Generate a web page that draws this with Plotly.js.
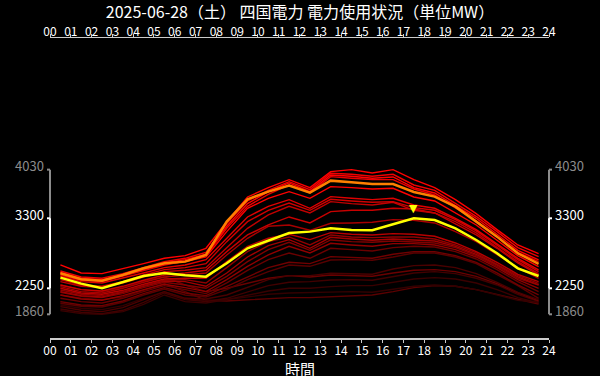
<!DOCTYPE html>
<html><head><meta charset="utf-8">
<script src="https://cdn.plot.ly/plotly-3.0.1.min.js"></script>
<style>html,body{margin:0;padding:0;background:#000;}#chart{width:600px;height:376px;}</style>
</head><body><div id="chart"></div>
<script>
const hours = [0.5,1.5,2.5,3.5,4.5,5.5,6.5,7.5,8.5,9.5,10.5,11.5,12.5,13.5,14.5,15.5,16.5,17.5,18.5,19.5,20.5,21.5,22.5,23.5];
const tickVals = [0,1,2,3,4,5,6,7,8,9,10,11,12,13,14,15,16,17,18,19,20,21,22,23,24];
const tickLabels = ['00','01','02','03','04','05','06','07','08','09','10','11','12','13','14','15','16','17','18','19','20','21','22','23','24'];

const today = [2410,2320,2250,2340,2435,2480,2445,2425,2625,2850,2960,3080,3100,3150,3125,3120,3210,3300,3275,3150,2975,2775,2550,2435];
const yesterday = [2475,2385,2365,2450,2550,2625,2650,2750,3250,3585,3700,3790,3685,3865,3840,3815,3815,3695,3625,3475,3250,3025,2775,2615];

const past01 = [2600,2480,2470,2540,2620,2700,2740,2850,3250,3620,3760,3880,3760,4000,4030,3980,4030,3880,3760,3580,3370,3130,2900,2770];
const past02 = [2510,2420,2400,2470,2560,2650,2700,2790,3220,3560,3720,3850,3730,3975,3960,3930,3960,3800,3720,3520,3330,3100,2860,2725];
const past03 = [2490,2400,2380,2450,2540,2630,2680,2760,3180,3520,3700,3830,3700,3950,3930,3900,3920,3760,3680,3490,3300,3060,2820,2675];
const past04 = [2450,2370,2350,2430,2520,2600,2660,2740,3150,3480,3660,3800,3680,3925,3900,3880,3880,3740,3650,3450,3260,3020,2790,2650];
const past05 = [2475,2390,2370,2440,2530,2610,2650,2720,3100,3450,3600,3700,3600,3775,3760,3740,3750,3620,3560,3380,3200,2970,2740,2575];
const past06 = [2430,2350,2330,2400,2480,2560,2600,2680,3000,3320,3480,3580,3450,3625,3600,3580,3600,3500,3450,3300,3130,2920,2700,2525];
const past07 = [2380,2300,2280,2350,2450,2530,2560,2620,2950,3250,3420,3530,3420,3585,3560,3540,3550,3460,3420,3280,3110,2900,2680,2500];
const past08 = [2350,2280,2260,2330,2420,2500,2520,2560,2860,3150,3350,3480,3380,3550,3520,3500,3540,3420,3380,3250,3080,2870,2650,2470];
const past09 = [2300,2230,2210,2280,2370,2450,2480,2520,2800,3050,3200,3320,3230,3400,3420,3420,3450,3440,3380,3220,3050,2850,2630,2450];
const past10 = [2275,2200,2180,2250,2340,2420,2450,2480,2750,3000,3180,3200,3120,3225,3230,3240,3280,3270,3230,3100,2950,2760,2560,2400];
const past11 = [2250,2180,2160,2220,2310,2390,2400,2400,2650,2880,3000,3060,2980,3085,3060,3050,3070,3060,3030,2930,2800,2640,2460,2350];
const past12 = [2225,2160,2140,2200,2290,2370,2380,2330,2560,2800,2950,3020,2900,3050,3020,3010,3020,3020,2990,2900,2780,2610,2440,2325];
const past13 = [2200,2140,2120,2190,2280,2360,2350,2280,2480,2720,2890,2980,2850,3015,2990,2970,2990,2980,2960,2880,2760,2600,2420,2300];
const past14 = [2190,2130,2110,2170,2260,2340,2300,2250,2430,2650,2830,2940,2820,2975,2950,2940,2960,2950,2930,2860,2740,2580,2400,2300];
const past15 = [2150,2090,2070,2140,2230,2310,2260,2200,2380,2580,2750,2880,2780,2925,2900,2880,2920,2920,2900,2830,2720,2560,2380,2250];
const past16 = [2100,2050,2030,2100,2200,2290,2230,2170,2330,2520,2680,2780,2700,2850,2830,2810,2860,2880,2870,2800,2690,2530,2350,2200];
const past17 = [2050,2000,1990,2060,2170,2260,2180,2140,2280,2420,2560,2640,2620,2725,2710,2700,2760,2800,2800,2740,2640,2480,2300,2150];
const past18 = [2025,1980,1970,2040,2150,2240,2150,2120,2230,2380,2500,2600,2580,2675,2680,2670,2720,2780,2780,2720,2620,2460,2290,2100];
const past19 = [1975,1920,1900,1960,2080,2200,2100,2090,2150,2270,2380,2440,2440,2475,2470,2460,2540,2590,2600,2560,2470,2340,2190,2080];
const past20 = [2300,2230,2200,2260,2360,2420,2300,2200,2250,2330,2400,2440,2420,2450,2440,2430,2480,2520,2530,2500,2430,2320,2180,2060];
const past21 = [1940,1890,1870,1920,2040,2180,2080,2050,2100,2200,2290,2340,2350,2375,2380,2370,2430,2480,2500,2470,2400,2300,2160,2050];
const past22 = [1915,1870,1860,1900,2010,2150,2050,2030,2080,2150,2210,2250,2250,2275,2290,2290,2340,2390,2410,2390,2330,2230,2110,2030];
const past23 = [2000,1950,1930,1990,2100,2200,2100,2060,2080,2120,2160,2180,2190,2200,2200,2190,2240,2280,2300,2280,2230,2150,2070,2040];
const past24 = [2150,2100,2080,2120,2220,2320,2200,2070,2060,2080,2100,2110,2110,2125,2130,2150,2200,2260,2290,2280,2230,2160,2080,2015];

const pastSeries = [past24,past23,past22,past21,past20,past19,past18,past17,past16,past15,past14,past13,past12,past11,past10,past09,past08,past07,past06,past05,past04,past03,past02,past01];
const pastColors = ['#5a0000','#330000','#3a0000','#420000','#6a0000','#4a0000','#580000','#700000','#6a0000','#900000','#800000','#a00000','#900000','#b80000','#a80000','#c80000','#c00000','#d00000','#e00000','#ff0000','#e80000','#ff0000','#f00000','#ff0000'];

const traces = [];
pastSeries.forEach((s,i)=>{
  traces.push({x:hours,y:s,type:'scatter',mode:'lines',line:{color:pastColors[i],width:1.4},hoverinfo:'skip',showlegend:false});
});
traces.push({x:hours,y:yesterday,type:'scatter',mode:'lines',line:{color:'#ff8000',width:2.5},showlegend:false});
traces.push({x:hours,y:today,type:'scatter',mode:'lines',line:{color:'#ffff00',width:2.5},showlegend:false});
// invisible trace to activate top axis
traces.push({x:[0,24],y:[null,null],xaxis:'x2',type:'scatter',mode:'lines',showlegend:false});

const allVals = pastSeries.flat().concat(yesterday, today);
const allMin = Math.min(...allVals), allMax = Math.max(...allVals);
const todayMin = Math.min(...today), todayMax = Math.max(...today);
const peakIdx = today.indexOf(todayMax);

const font = 'Noto Sans CJK JP, Noto Sans, sans-serif';
const axisCommon = {range:[0,24],tickvals:tickVals,ticktext:tickLabels,showline:true,linecolor:'#cccccc',linewidth:1.5,
  ticks:'outside',ticklen:3,tickcolor:'#cccccc',tickwidth:1,showgrid:false,zeroline:false,
  tickfont:{family:font,size:12,color:'#ffffff'},fixedrange:true};

function bracket(v0,v1,color,side){
  const xa = side==='left'?0:1, d = side==='left'?-3:3;
  return [
    {type:'line',xref:'paper',yref:'y',x0:xa,x1:xa,y0:v0,y1:v1,line:{color:color,width:2}},
    {type:'line',xref:'paper',xsizemode:'pixel',xanchor:xa,yref:'y',x0:0,x1:d,y0:v0,y1:v0,line:{color:color,width:2}},
    {type:'line',xref:'paper',xsizemode:'pixel',xanchor:xa,yref:'y',x0:0,x1:d,y0:v1,y1:v1,line:{color:color,width:2}}
  ];
}
const shapes = [].concat(bracket(allMin,allMax,'#8c8c8c','left'),bracket(todayMin,todayMax,'#ffffff','left'),
  bracket(allMin,allMax,'#8c8c8c','right'),bracket(todayMin,todayMax,'#ffffff','right'));

function lab(v,color,side){
  return {xref:'paper',yref:'y',x:side==='left'?0:1,y:v,text:String(v),showarrow:false,
    xanchor:side==='left'?'right':'left',xshift:side==='left'?-4:4,yanchor:'middle',yshift:4,
    font:{family:font,size:13,color:color}};
}
const annotations = [
  lab(allMax,'#8c8c8c','left'),lab(todayMax,'#ffffff','left'),lab(todayMin,'#ffffff','left'),lab(allMin,'#8c8c8c','left'),
  lab(allMax,'#8c8c8c','right'),lab(todayMax,'#ffffff','right'),lab(todayMin,'#ffffff','right'),lab(allMin,'#8c8c8c','right'),
  {x:hours[peakIdx],y:todayMax,xref:'x',yref:'y',text:'▼',showarrow:false,yanchor:'middle',yshift:10,font:{family:'DejaVu Sans',size:11,color:'#ffff00'}},
  {xref:'paper',yref:'paper',x:0.5,y:0,text:'時間',showarrow:false,yanchor:'middle',yshift:-30,font:{family:font,size:15,color:'#ffffff'}}
];

const layout = {
  width:600,height:376,paper_bgcolor:'#000000',plot_bgcolor:'#000000',
  margin:{l:50,r:51,t:38,b:38,pad:0},
  title:{text:'2025-06-28（土） 四国電力 電力使用状況（単位MW）',x:0.5,xanchor:'center',y:1-12/376,yref:'container',yanchor:'middle',
    font:{family:font,size:16,color:'#ffffff'}},
  xaxis:Object.assign({side:'bottom',automargin:false,ticklabelstandoff:-2},axisCommon),
  xaxis2:Object.assign({side:'top',overlaying:'x',matches:'x',automargin:false,ticklabelstandoff:-7},axisCommon),
  yaxis:{range:[1504.5,6004.5],visible:false,fixedrange:true},
  shapes:shapes,annotations:annotations,showlegend:false,hovermode:false
};
Plotly.newPlot('chart',traces,layout,{displayModeBar:false,staticPlot:true});
</script></body></html>
